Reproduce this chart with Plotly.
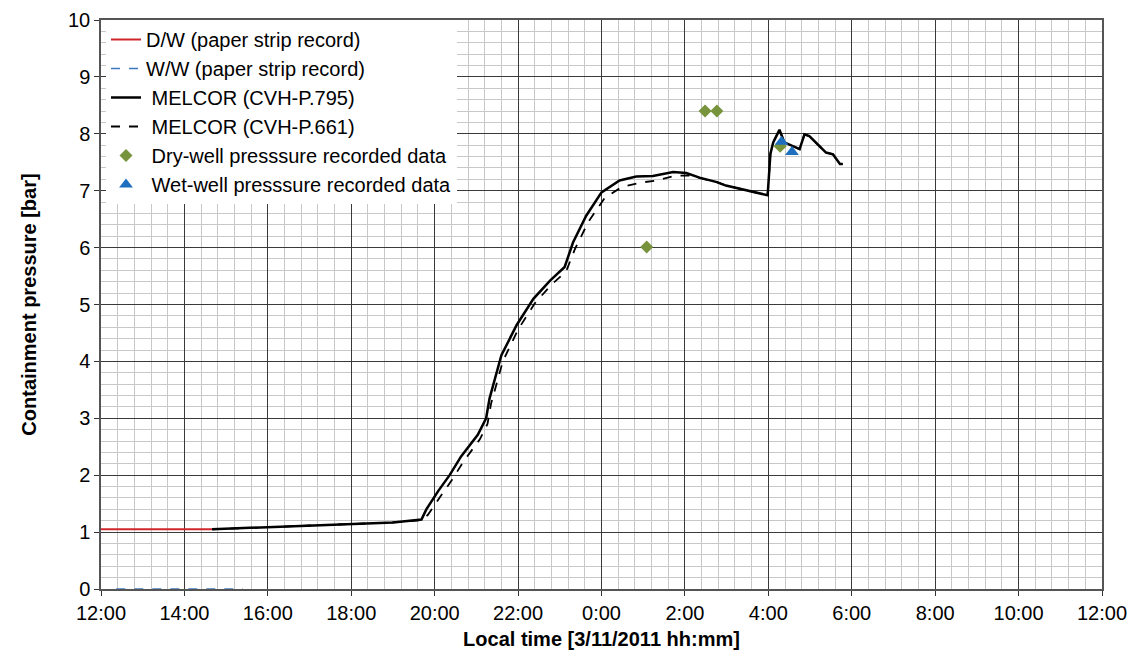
import plotly.graph_objects as go

# ---- data ----
dw_time = ["2011-03-11 12:00", "2011-03-11 14:40"]
dw_pres = [1.05, 1.05]

ww_time = ["2011-03-11 12:22", "2011-03-11 15:24"]
ww_pres = [0.0, 0.0]

melcor795_time = [
    "2011-03-11 14:40", "2011-03-11 16:00", "2011-03-11 18:00", "2011-03-11 19:00",
    "2011-03-11 19:41", "2011-03-11 19:48", "2011-03-11 20:05", "2011-03-11 20:22",
    "2011-03-11 20:38", "2011-03-11 21:02", "2011-03-11 21:14", "2011-03-11 21:19",
    "2011-03-11 21:36", "2011-03-11 21:58", "2011-03-11 22:22", "2011-03-11 22:46",
    "2011-03-11 23:07", "2011-03-11 23:19", "2011-03-11 23:38", "2011-03-12 00:00",
    "2011-03-12 00:26", "2011-03-12 00:50", "2011-03-12 01:14", "2011-03-12 01:43",
    "2011-03-12 02:02", "2011-03-12 02:21", "2011-03-12 02:46", "2011-03-12 02:59",
    "2011-03-12 03:59", "2011-03-12 04:03", "2011-03-12 04:07", "2011-03-12 04:16",
    "2011-03-12 04:23", "2011-03-12 04:45", "2011-03-12 04:52", "2011-03-12 04:59",
    "2011-03-12 05:23", "2011-03-12 05:33", "2011-03-12 05:43", "2011-03-12 05:47",
]
melcor795_pres = [
    1.05, 1.09, 1.14, 1.17,
    1.22, 1.40, 1.72, 2.01,
    2.33, 2.71, 3.00, 3.35,
    4.11, 4.64, 5.10, 5.42,
    5.66, 6.09, 6.56, 6.97,
    7.18, 7.25, 7.26, 7.33,
    7.31, 7.23, 7.15, 7.09,
    6.92, 7.65, 7.85, 8.07,
    7.85, 7.73, 7.99, 7.96,
    7.67, 7.64, 7.47, 7.47,
]

melcor661_time = [
    "2011-03-11 14:40", "2011-03-11 16:00", "2011-03-11 18:00", "2011-03-11 19:00",
    "2011-03-11 19:41", "2011-03-11 19:50", "2011-03-11 20:08", "2011-03-11 20:25",
    "2011-03-11 20:42", "2011-03-11 21:05", "2011-03-11 21:16", "2011-03-11 21:21",
    "2011-03-11 21:38", "2011-03-11 22:00", "2011-03-11 22:24", "2011-03-11 22:48",
    "2011-03-11 23:09", "2011-03-11 23:22", "2011-03-11 23:41", "2011-03-12 00:05",
    "2011-03-12 00:30", "2011-03-12 00:55", "2011-03-12 01:20", "2011-03-12 01:45",
    "2011-03-12 02:05", "2011-03-12 02:21", "2011-03-12 02:46", "2011-03-12 02:59",
    "2011-03-12 03:59", "2011-03-12 04:03", "2011-03-12 04:07", "2011-03-12 04:16",
    "2011-03-12 04:23", "2011-03-12 04:45", "2011-03-12 04:52", "2011-03-12 04:59",
    "2011-03-12 05:23", "2011-03-12 05:33", "2011-03-12 05:43", "2011-03-12 05:47",
]
melcor661_pres = [
    1.05, 1.09, 1.14, 1.17,
    1.21, 1.30, 1.62, 1.92,
    2.25, 2.63, 2.90, 3.25,
    4.00, 4.56, 5.02, 5.35,
    5.58, 5.98, 6.45, 6.88,
    7.07, 7.14, 7.18, 7.26,
    7.27, 7.22, 7.15, 7.09,
    6.92, 7.65, 7.85, 8.07,
    7.85, 7.73, 7.99, 7.96,
    7.67, 7.64, 7.47, 7.47,
]

drywell_time = ["2011-03-12 01:05", "2011-03-12 02:29", "2011-03-12 02:46", "2011-03-12 04:17"]
drywell_pres = [6.01, 8.40, 8.40, 7.78]

wetwell_time = ["2011-03-12 04:19", "2011-03-12 04:34"]
wetwell_pres = [7.86, 7.68]

x_range = ["2011-03-11 12:00", "2011-03-12 12:00"]
y_range = [0, 10]

# ---- figure ----
FONT = "Arial, Liberation Sans, sans-serif"
fig = go.Figure()

fig.add_trace(go.Scatter(x=dw_time, y=dw_pres, mode="lines", name="D/W (paper strip record)",
                         line=dict(color="#d0262b", width=2), legendgroup="a"))
fig.add_trace(go.Scatter(x=ww_time, y=ww_pres, mode="lines", name="W/W (paper strip record)",
                         line=dict(color="#3c78c0", width=1.5, dash="dash"), legendgroup="b"))
fig.add_trace(go.Scatter(x=melcor795_time, y=melcor795_pres, mode="lines", name=" MELCOR (CVH-P.795)",
                         line=dict(color="black", width=2.5), legendgroup="c"))
fig.add_trace(go.Scatter(x=melcor661_time, y=melcor661_pres, mode="lines", name=" MELCOR (CVH-P.661)",
                         line=dict(color="black", width=1.8, dash="dash"), legendgroup="d"))
fig.add_trace(go.Scatter(x=drywell_time, y=drywell_pres, mode="markers",
                         name=" Dry-well presssure recorded data",
                         marker=dict(symbol="diamond", color="#77933c", size=10), legendgroup="e"))
fig.add_trace(go.Scatter(x=wetwell_time, y=wetwell_pres, mode="markers",
                         name=" Wet-well presssure recorded data",
                         marker=dict(symbol="triangle-up", color="#1f6fc0", size=12), legendgroup="f"))

fig.update_layout(
    width=1129, height=642,
    margin=dict(l=93, r=35, t=12, b=61),
    paper_bgcolor="white", plot_bgcolor="white",
    font=dict(family=FONT, size=20, color="black"),
    showlegend=True,
    legend=dict(x=0.005, y=1.0, xanchor="left", yanchor="top", bgcolor="white",
                borderwidth=0, font=dict(size=20, family=FONT), tracegroupgap=0,
                traceorder="grouped", itemwidth=30),
)

fig.update_xaxes(
    type="date", range=x_range, dtick=7200000, tick0="2011-03-11 12:00",
    tickformat="%-H:%M", ticks="outside", ticklen=5, tickcolor="#333",
    showgrid=True, gridcolor="#3a3a3a", gridwidth=1,
    minor=dict(dtick=1440000, showgrid=True, gridcolor="#c8c8c8", gridwidth=1),
    showline=True, linecolor="#555", linewidth=1.5, mirror=True,
    title=dict(text="<b>Local time [3/11/2011 hh:mm]</b>", font=dict(size=20), standoff=10),
    tickfont=dict(size=20), zeroline=False, automargin=False, ticklabeloverflow="allow",
)
fig.update_yaxes(
    range=y_range, dtick=1, tick0=0, ticks="outside", ticklen=5, tickcolor="#333",
    showgrid=True, gridcolor="#3a3a3a", gridwidth=1,
    minor=dict(dtick=0.2, showgrid=True, gridcolor="#c8c8c8", gridwidth=1),
    showline=True, linecolor="#555", linewidth=1.5, mirror=True,
    title=dict(text="<b>Containment pressure [bar]</b>", font=dict(size=20), standoff=26),
    tickfont=dict(size=20), zeroline=False, automargin=False, ticklabeloverflow="allow",
)

fig.write_html("out.html")
